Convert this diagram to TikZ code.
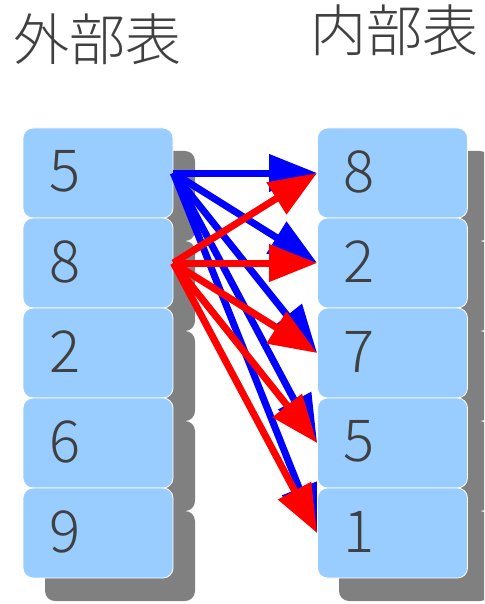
\documentclass[tikz,border=0pt]{standalone}
\usepackage{fontspec}
\setmainfont{Noto Sans CJK JP}[UprightFont=* Light]
\usetikzlibrary{arrows.meta}
\definecolor{boxc}{HTML}{99CCFF}
\definecolor{txt}{HTML}{404040}
\definecolor{shd}{HTML}{808080}
\begin{document}
\begin{tikzpicture}[x=1pt,y=-1pt,
  cell/.style={fill=boxc,draw=white,line width=0.8pt,rounded corners=10pt,minimum width=150pt,minimum height=90pt,inner sep=0},
  shadowfill/.style={fill=shd,rounded corners=10pt},
  num/.style={font=\fontsize{58}{60}\selectfont,text=txt,inner sep=0},
  ttl/.style={font=\fontsize{56}{60}\selectfont,text=txt,inner sep=0},
  barrow/.style={draw=blue,line width=7pt,-{Triangle[length=48pt,width=36pt,fill=blue]}},
  rarrow/.style={draw=red,line width=7pt,-{Triangle[length=48pt,width=36pt,fill=red]}}]
\useasboundingbox (0,0) rectangle (484,604);
\clip (0,0) rectangle (484,604);
% titles
\node[ttl] (tl) at (97,39) {外部表};
\node[ttl] (tr) at (394,30) {内部表};
% shadows
\foreach \i/\y in {1/173,2/263,3/353,4/443,5/533}{
  \fill[shadowfill] (45,\y-45+23) rectangle (195,\y+45+23);
  \fill[shadowfill] (339,\y-45+23) rectangle (490,\y+45+23);
}
\foreach \i/\y/\a/\b in {1/173/5/8,2/263/8/2,3/353/2/7,4/443/6/5,5/533/9/1}{
  \node[cell] (L\i) at (98,\y) {};
  \node[cell] (R\i) at (392.5,\y) {};
  \node[num] (dl\i) at (65,\y-1.5) {\a};
  \node[num] (dr\i) at (359,\y-1.5) {\b};
}
% blue arrows from L1
\foreach \j in {1,...,5}{
  \draw[barrow] (L1.east) -- (R\j.west);
}
% red arrows from L2
\foreach \j in {1,...,5}{
  \draw[rarrow] (L2.east) -- (R\j.west);
}
\end{tikzpicture}
\end{document}
